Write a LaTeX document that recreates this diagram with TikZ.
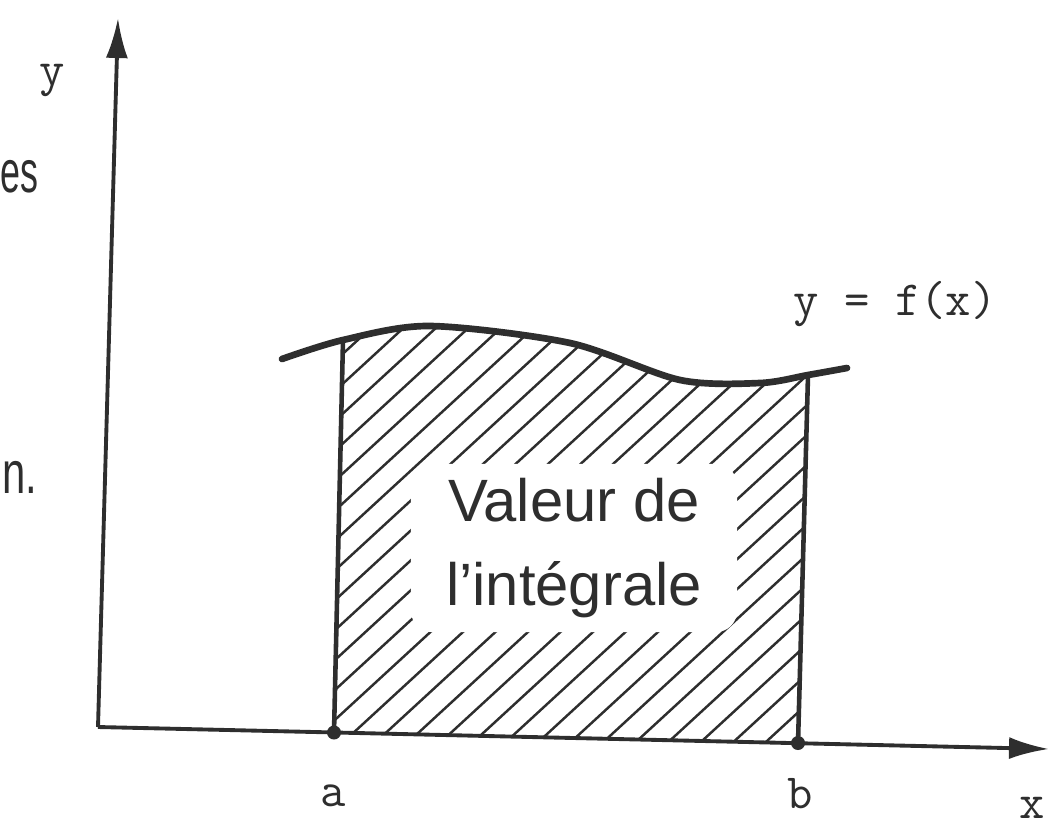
\documentclass[tikz,border=0pt]{standalone}
\usepackage{fontspec}
\setsansfont{Liberation Sans}
\usetikzlibrary{arrows.meta,calc}
\definecolor{ScanInk}{HTML}{2E2E2E}
\definecolor{ScanPaper}{HTML}{FFFFFF}
\tikzset{
  every node/.style={text=ScanInk},
  axis/.style={-{Latex[length=4mm,width=2.2mm]}, draw=ScanInk, line width=1.1pt},
  bound/.style={draw=ScanInk, line width=1.3pt},
  fcurve/.style={draw=ScanInk, line width=1.9pt, line cap=round},
  hatch/.style={draw=ScanInk, line width=0.7pt},
  endpoint/.style={circle, fill=ScanInk, inner sep=0pt, minimum size=1.4mm},
  axislabel/.style={font=\ttfamily\fontsize{14}{16}\selectfont},
  areatext/.style={font=\sffamily\fontsize{17}{24}\selectfont},
}
\begin{document}
\begin{tikzpicture}[x=1cm,y=1cm]
  \useasboundingbox (0,0) rectangle (10.49,8.25);

  % Axes
  \coordinate (O) at (0.98,0.98);
  \coordinate (ytip) at (1.18,8.07);
  \coordinate (xtip) at (10.49,0.76);
  \draw[axis] (O) -- (ytip);
  \draw[axis] (O) -- (xtip);

  % Bounds a and b, and where they meet the curve
  \node[endpoint] (a) at (3.34,0.925) {};
  \node[endpoint] (b) at (7.98,0.82) {};
  \coordinate (atop) at (3.43,4.85);
  \coordinate (btop) at (8.08,4.50);

  % Hatching between a and b, under the curve
  \begin{scope}
    \clip (a.center) -- ($(a.center)!1.3!(atop)$) -- ($(b.center)!1.3!(btop)$)
          -- (b.center) -- cycle;
    \clip plot[smooth] coordinates {(2.82,4.66) (3.43,4.85) (4.30,4.99) (5.70,4.82)
          (6.80,4.45) (7.60,4.42) (8.08,4.50) (8.47,4.57)} -- (8.47,0.4) -- (2.82,0.4) -- cycle;
    \foreach \k in {-14,...,15}
      \draw[hatch] ({3.40+0.325*\k},0.5) -- ++(5,4.6);
  \end{scope}

  % The curve y = f(x) and the two verticals
  \draw[fcurve] plot[smooth] coordinates {(2.82,4.66) (3.43,4.85) (4.30,4.99) (5.70,4.82)
        (6.80,4.45) (7.60,4.42) (8.08,4.50) (8.47,4.57)};
  \draw[bound] (a.center) -- (atop);
  \draw[bound] (b.center) -- (btop);

  % Text in the area
  \node[areatext, fill=ScanPaper, align=center, inner xsep=10pt, inner ysep=4pt,
        rounded corners=6pt] (area) at (5.74,2.77) {Valeur de\\l’intégrale};

  % Labels
  \node[axislabel, anchor=base] (ylab) at (0.52,7.39) {y};
  \node[axislabel, anchor=base] (flab) at (8.95,5.10) {y = f(x)};
  \node[axislabel, anchor=base] (alab) at (3.33,0.19) {a};
  \node[axislabel, anchor=base] (blab) at (8.00,0.17) {b};
  \node[axislabel, anchor=base] (xlab) at (10.32,0.07) {x};

  % Ends of the page text on the left
  \node[areatext, anchor=base west, inner sep=0pt] (es) at (0.0,6.33) {\scalebox{0.6}[1]{es}};
  \node[areatext, anchor=base west, inner sep=0pt] (dot) at (0.02,3.32) {\scalebox{0.7}[1]{n.}};
\end{tikzpicture}
\end{document}
